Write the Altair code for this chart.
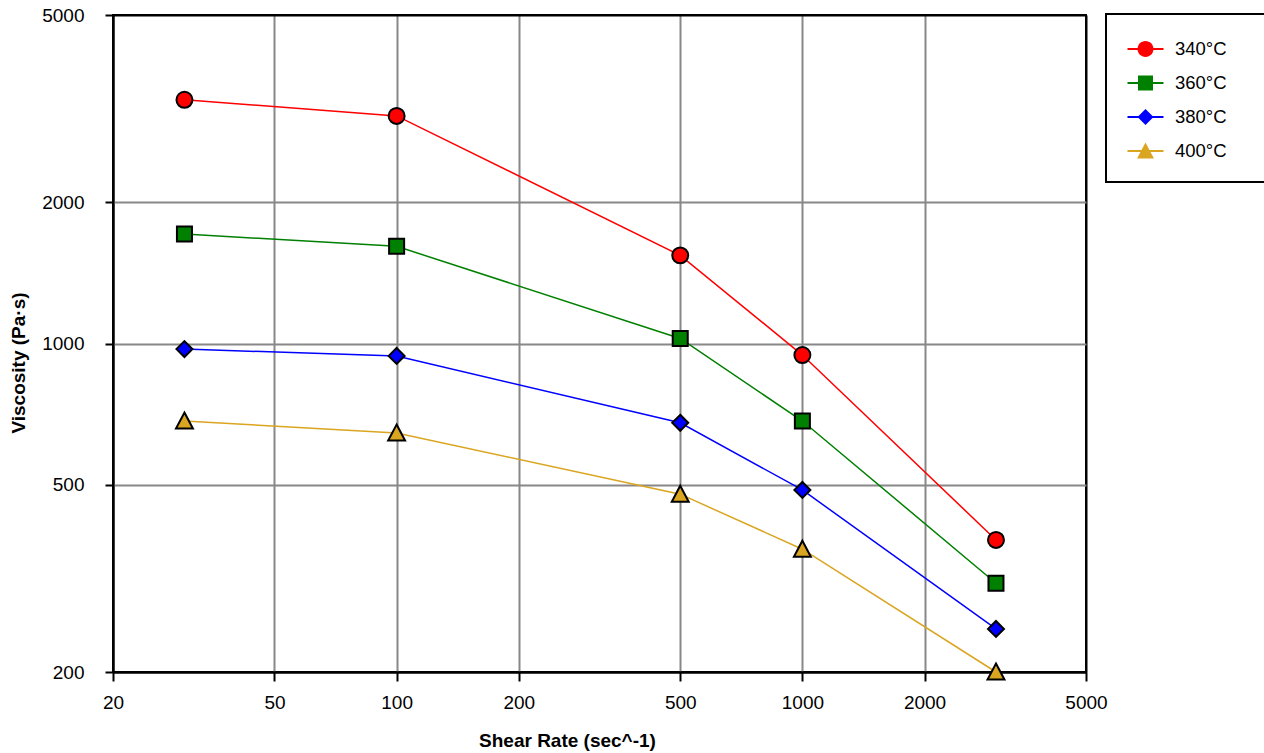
import altair as alt
import pandas as pd

# ---- data ----
shear_rate = [30, 100, 500, 1000, 3000]
temps = ["340°C", "360°C", "380°C", "400°C"]
visc_340 = [3300, 3050, 1540, 945, 382]
visc_360 = [1710, 1610, 1025, 684, 309]
visc_380 = [973, 941, 678, 488, 247]
visc_400 = [684, 645, 478, 365, 200]

x_ticks = [20, 50, 100, 200, 500, 1000, 2000, 5000]
y_ticks = [200, 500, 1000, 2000, 5000]

colors = ["#FF0000", "#008000", "#0000FF", "#DAA520"]
# marker outlines (unit paths); the extra move-to points only fix the legend row height
PAD = "M0,-0.57 M0,0.57 "
shapes = [
    PAD + "M-0.444,0 A0.444,0.444 0 1,0 0.444,0 A0.444,0.444 0 1,0 -0.444,0 Z",
    PAD + "M-0.417,-0.417 L0.417,-0.417 L0.417,0.417 L-0.417,0.417 Z",
    PAD + "M0,-0.444 L0.444,0 L0,0.444 L-0.444,0 Z",
    PAD + "M0,-0.47 L0.47,0.42 L-0.47,0.42 Z",
]
line_symbol = PAD + "M-1,0 L1,0"

rows = []
for t, vals in zip(temps, [visc_340, visc_360, visc_380, visc_400]):
    for s, v in zip(shear_rate, vals):
        rows.append({"shear": s, "visc": v, "Temp": t, "TempL": t})
df = pd.DataFrame(rows)

FONT = "Liberation Sans"
SYM = 1296

x_enc = alt.X(
    "shear:Q",
    scale=alt.Scale(type="log", domain=[20, 5000], nice=False),
    axis=alt.Axis(
        values=x_ticks, format="d", labelOverlap=False, labelFlush=False,
        title="Shear Rate (sec^-1)", titleX=454, titleY=74,
        titleAlign="center", titleBaseline="alphabetic",
        labelPadding=12, tickSize=9,
        gridColor=alt.condition("datum.value == 20 || datum.value == 5000",
                                alt.value("black"), alt.value("#888888")),
    ),
)
y_enc = alt.Y(
    "visc:Q",
    scale=alt.Scale(type="log", domain=[200, 5000], nice=False),
    axis=alt.Axis(
        values=y_ticks, format="d", labelOverlap=False, labelFlush=False,
        title="Viscosity (Pa·s)", titleX=-89, titleY=347.5, titleAngle=270,
        titleAlign="center", titleBaseline="alphabetic",
        labelPadding=21, tickSize=8,
        gridColor=alt.condition("datum.value == 200 || datum.value == 5000",
                                alt.value("black"), alt.value("#888888")),
    ),
)

common = dict(
    orient="none", legendX=993, legendY=-1,
    symbolSize=SYM, labelFontSize=18.5, labelFont=FONT,
    padding=16, rowPadding=0, labelOffset=10.5, symbolOffset=4.5,
)

base = alt.Chart(df)

lines = base.mark_line(strokeWidth=1.5).encode(
    x=x_enc, y=y_enc,
    color=alt.Color(
        "TempL:N",
        scale=alt.Scale(domain=temps, range=colors),
        legend=alt.Legend(title=None, symbolType=line_symbol, symbolStrokeWidth=2,
                          labelExpr="''", **common),
    ),
)

pt_legend = alt.Legend(title=None, labelExpr="datum.label + '\u2800\u2800'",
                       symbolStrokeColor="black", symbolStrokeWidth=2,
                       labelColor="black", strokeColor="black", zindex=1, **common)

points = base.mark_point(filled=True, opacity=1, stroke="black", strokeWidth=2,
                         size=SYM).encode(
    x=x_enc, y=y_enc,
    fill=alt.Fill("Temp:N", scale=alt.Scale(range=colors), legend=pt_legend),
    shape=alt.Shape("Temp:N", scale=alt.Scale(range=shapes), legend=pt_legend),
)

chart = (
    alt.layer(lines, points)
    .properties(
        width=973, height=657,
        autosize=alt.AutoSizeParams(type="none"),
        padding={"left": 113, "top": 15, "right": 178, "bottom": 81},
        background="white",
    )
    .configure_view(stroke="black", strokeWidth=2)
    .configure_axis(
        labelFont=FONT, labelFontSize=19, labelColor="black",
        titleFont=FONT, titleFontSize=19, titleFontWeight="bold", titleColor="black",
        domainColor="black", domainWidth=2, tickColor="black", tickWidth=2,
        gridWidth=2,
    )
    .configure_legend(strokeWidth=2)
)

chart.save("out.html", embed_options={"renderer": "svg", "actions": False})
